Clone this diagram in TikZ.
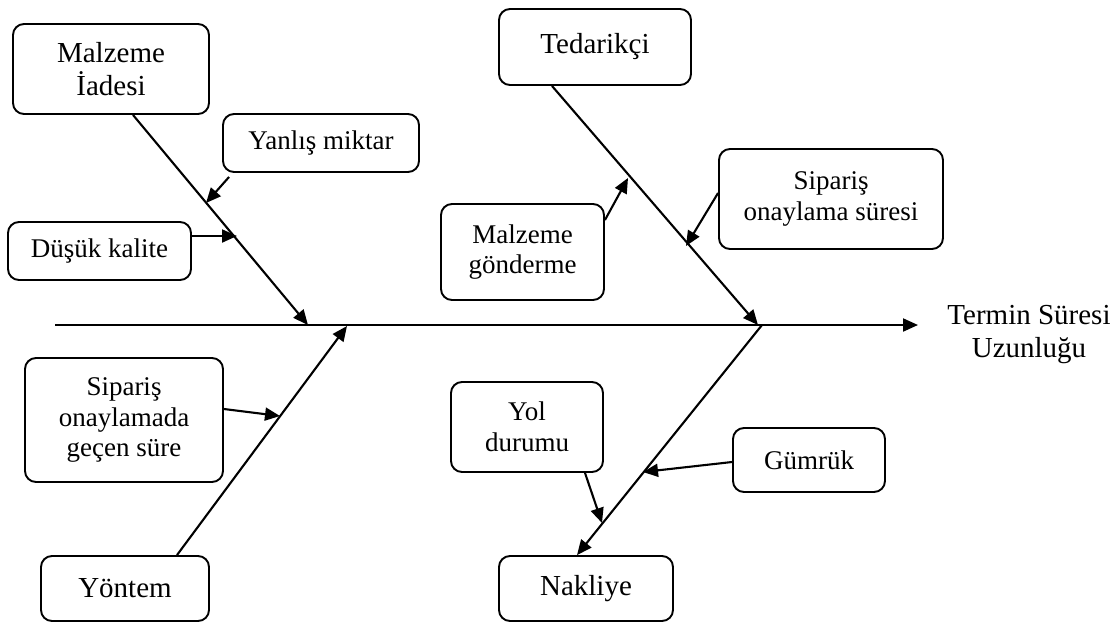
\documentclass[tikz,border=0pt]{standalone}
\usepackage{fontspec}
\setmainfont{Liberation Serif}
\usetikzlibrary{arrows.meta,calc}
\begin{document}
\begin{tikzpicture}[x=1pt,y=-1pt,
  box/.style={draw,rounded corners=11pt,line width=1.9pt,inner sep=0pt,align=center},
  small/.style={font=\fontsize{27}{30.5}\selectfont},
  big/.style={font=\fontsize{29}{33}\selectfont},
  bone/.style={line width=2.1pt,-{Triangle[length=15pt,width=13pt]}}]
\useasboundingbox (0,0) rectangle (1118,624);
% boxes
\node[box,big,minimum width=196pt,minimum height=90pt] (mi) at (111,69) {Malzeme\\İadesi};
\node[box,small,minimum width=196pt,minimum height=58pt] (ym) at (321,143) {Yanlış miktar};
\node[box,small,minimum width=183pt,minimum height=58pt] (dk) at (99.5,251) {Düşük kalite};
\node[box,big,minimum width=192pt,minimum height=76pt] (td) at (595,47) {Tedarikçi};
\node[box,small,minimum width=163pt,minimum height=96pt] (mg) at (522.5,252) {Malzeme\\gönderme};
\node[box,small,minimum width=224pt,minimum height=100pt] (so) at (831,199) {Sipariş\\onaylama süresi};
\node[box,small,minimum width=198pt,minimum height=124pt] (sg) at (124,420) {Sipariş\\onaylamada\\geçen süre};
\node[box,small,minimum width=152pt,minimum height=90pt] (yd) at (527,427) {Yol\\durumu};
\node[box,small,minimum width=152pt,minimum height=64pt] (gm) at (809,460) {Gümrük};
\node[box,big,minimum width=168pt,minimum height=65pt] (yt) at (125,588.5) {Yöntem};
\node[box,big,minimum width=174pt,minimum height=65pt] (nk) at (586,588.5) {Nakliye};
\node[big,align=center,inner sep=0pt] (tn) at (1029,335) {Termin Süresi\\Uzunluğu};
% spine
\coordinate (s0) at (55,325);
\coordinate (s1) at (918,325);
\draw[bone] (s0) -- (s1);
% junctions on spine
\coordinate (j1) at (308,325);
\coordinate (j2) at (758,325);
\coordinate (j3) at (347,326);
\coordinate (j4) at (762,325);
% tips on bones
\coordinate (t1) at (206,203);
\coordinate (t2) at (237,236);
\coordinate (t3) at (628,178);
\coordinate (t4) at (686,246);
\coordinate (t5) at (280,416);
\coordinate (t6) at (602,523);
\coordinate (t7) at (643,472);
% main bones
\draw[bone] ([xshift=22pt]mi.south) -- (j1);
\draw[bone] ([xshift=-43pt]td.south) -- (j2);
\draw[bone] ([xshift=52pt]yt.north) -- (j3);
\draw[bone] (j4) -- ([xshift=-9pt]nk.north);
% sub causes
\draw[bone] ([xshift=7pt,yshift=-4pt]ym.south west) -- (t1);
\draw[bone] ([yshift=15pt]dk.east) -- (t2);
\draw[bone] ([yshift=32pt]mg.east) -- (t3);
\draw[bone] ([yshift=6pt]so.west) -- (t4);
\draw[bone] ([yshift=11pt]sg.east) -- (t5);
\draw[bone] ([xshift=58pt]yd.south) -- (t6);
\draw[bone] ([yshift=-2pt]gm.west) -- (t7);
\end{tikzpicture}
\end{document}
